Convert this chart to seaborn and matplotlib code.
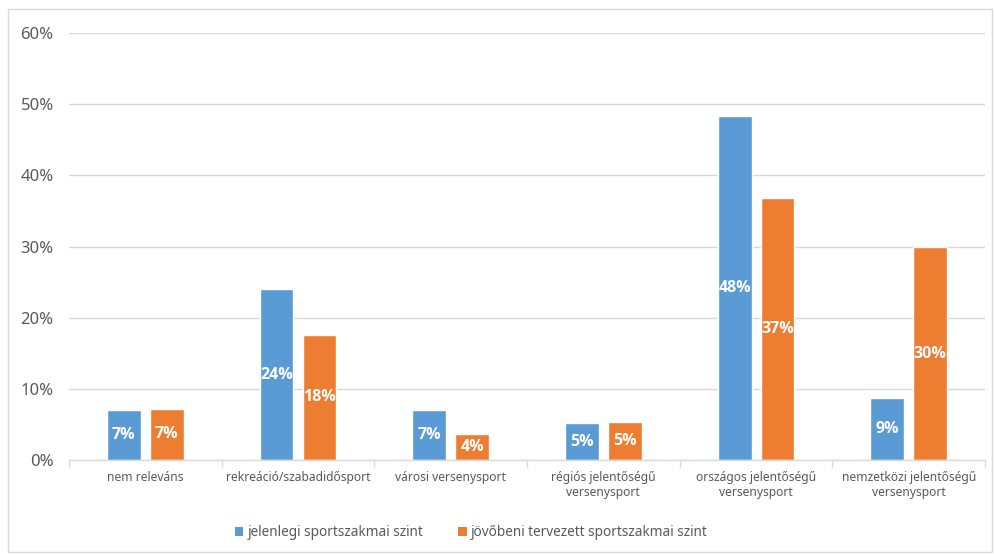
import matplotlib
matplotlib.use("Agg")
import matplotlib.pyplot as plt
from matplotlib.patches import Rectangle, Patch
from matplotlib.ticker import PercentFormatter, FixedLocator
import seaborn as sns
import pandas as pd

categories = [
    "nem releváns",
    "rekreáció/szabadidősport",
    "városi versenysport",
    "régiós jelentőségű\nversenysport",
    "országos jelentőségű\nversenysport",
    "nemzetközi jelentőségű\nversenysport",
]
series_names = ["jelenlegi sportszakmai szint", "jövőbeni tervezett sportszakmai szint"]
current_level = [7.0, 24.0, 7.0, 5.2, 48.3, 8.7]
planned_level = [7.2, 17.6, 3.65, 5.3, 36.8, 29.9]
colors = ["#5B9BD5", "#ED7D31"]

df = pd.DataFrame({
    "category": categories * 2,
    "series": [series_names[0]] * len(categories) + [series_names[1]] * len(categories),
    "value": current_level + planned_level,
})

sns.set_theme(style="white")
plt.rcParams["font.family"] = ["Noto Sans", "DejaVu Sans"]

fig = plt.figure(figsize=(9.94, 5.55), dpi=100)
ax = fig.add_axes([0.0694, 0.171, 0.9216, 0.7695])

sns.barplot(
    data=df, x="category", y="value", hue="series",
    order=categories, hue_order=series_names, palette=colors,
    width=0.562, gap=0.21, saturation=1, legend=False, ax=ax,
)

# value labels centred inside each bar
for container in ax.containers:
    ax.bar_label(
        container, labels=[f"{v:.0f}%" for v in container.datavalues],
        label_type="center", color="white", fontsize=11.5, fontweight="bold",
        family=["Open Sans", "DejaVu Sans"],
    )

ax.set_xlim(-0.5, len(categories) - 0.5)
ax.set_ylim(0, 60)
ax.yaxis.set_major_locator(FixedLocator(range(0, 61, 10)))
ax.yaxis.set_major_formatter(PercentFormatter(decimals=0))
ax.grid(axis="y", color="#D9D9D9", linewidth=1)
ax.set_axisbelow(True)
ax.set_xlabel("")
ax.set_ylabel("")

for side in ["top", "right", "left"]:
    ax.spines[side].set_visible(False)
ax.spines["bottom"].set_color("#D9D9D9")
ax.spines["bottom"].set_linewidth(1)

ax.tick_params(axis="y", length=0, labelsize=12, labelcolor="#595959", pad=11)
ax.tick_params(axis="x", which="major", length=0, labelsize=8.7, labelcolor="#595959", pad=8)
ax.xaxis.set_minor_locator(FixedLocator([i - 0.5 for i in range(len(categories) + 1)]))
ax.tick_params(axis="x", which="minor", length=5, width=1, color="#D9D9D9", bottom=True)

handles = [Patch(facecolor=c, edgecolor="none") for c in colors]
fig.legend(
    handles, series_names, loc="center", bbox_to_anchor=(0.474, 1 - 533 / 555),
    ncol=2, frameon=False, fontsize=9.8, labelcolor="#595959",
    handlelength=0.6, handleheight=0.6, handletextpad=0.3, columnspacing=2.6,
)

fig.patches.append(Rectangle(
    (8 / 994, 3 / 555), 984 / 994, 543 / 555, transform=fig.transFigure,
    fill=False, edgecolor="#D9D9D9", linewidth=1,
))

fig.savefig("out.png", dpi=100, facecolor="white")
